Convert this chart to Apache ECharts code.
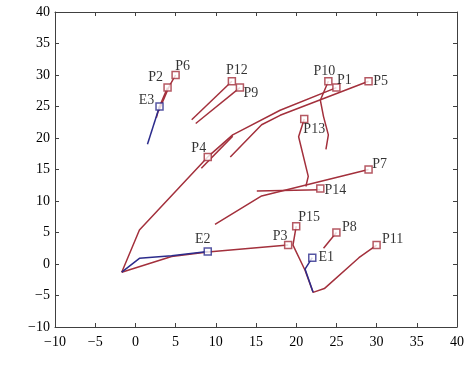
<!DOCTYPE html>
<html>
<head>
<meta charset="utf-8">
<script src="https://cdn.jsdelivr.net/npm/echarts@6/dist/echarts.min.js"></script>
<style>
  html, body { margin: 0; padding: 0; background: #fff; }
  #chart { width: 472px; height: 368px; }
</style>
</head>
<body>
<div id="chart"></div>
<script>
// trajectories (red)
const trackP2 = [[2.6, 23.2], [3, 25], [4, 28]];
const trackP6 = [[2.9, 24.3], [4.2, 28.2], [5, 30]];
const trackP12 = [[7.0, 22.9], [12, 29]];
const trackP9 = [[7.5, 22.3], [13, 28]];
const trackP1 = [[-1.7, -1.3], [0.5, 5.4], [9, 17], [12.1, 20.5], [13, 21.1], [18, 24.4], [25, 28]];
const trackP4 = [[8.2, 15.2], [12.1, 20.3]];
const trackP5 = [[11.8, 17], [15.7, 22.1], [18, 23.6], [29, 29]];
const trackP10 = [[23.7, 18.2], [24.0, 20.5], [23.4, 23.4], [23, 26.0], [24, 29]];
const trackP13 = [[21, 23], [20.3, 20.2], [21.5, 13.9], [21.2, 12.3]];
const trackP7 = [[9.9, 6.3], [15.7, 10.8], [29, 15]];
const trackP14 = [[15.1, 11.6], [23, 11.8]];
const trackP3 = [[-1.7, -1.3], [4.5, 1.2], [9, 1.9], [19, 3]];
const trackP11 = [[20, 6], [19.6, 3.0], [21.1, -1.0], [22.1, -4.5], [23.5, -3.9], [27.8, 1.0], [30, 3]];
const trackP8 = [[23.4, 2.5], [25, 5]];

// trajectories (blue)
const trackE3 = [[1.5, 19], [3, 25]];
const trackE2 = [[-1.7, -1.3], [0.5, 0.9], [4.5, 1.3], [9, 2]];
const trackE1 = [[22, 1], [21.1, -0.8], [22.1, -4.5]];

// marked points
const pNames = ['P1', 'P2', 'P3', 'P4', 'P5', 'P6', 'P7', 'P8', 'P9', 'P10', 'P11', 'P12', 'P13', 'P14', 'P15'];
const pX = [25, 4, 19, 9, 29, 5, 29, 25, 13, 24, 30, 12, 21, 23, 20];
const pY = [28, 28, 3, 17, 29, 30, 15, 5, 28, 29, 3, 29, 23, 12, 6];
const eNames = ['E1', 'E2', 'E3'];
const eX = [22, 9, 3];
const eY = [1, 2, 25];

// label offsets (px) from marker centre
const labelOffset = {
  P1: [8, -7], P2: [-12, -10], P3: [-8, -9], P4: [-9, -9], P5: [12, 0],
  P6: [7, -9], P7: [11, -5], P8: [13, -5], P9: [11, 6], P10: [-4, -10],
  P11: [16, -6], P12: [5, -11], P13: [10, 10], P14: [15, 2], P15: [13, -9],
  E1: [14, 0], E2: [-5, -12], E3: [-13, -6]
};

const RED = '#a3303c';
const BLUE = '#2c2c8c';
const FONT = 'Liberation Serif';

const chart = echarts.init(document.getElementById('chart'));

function lineSeries(data, color) {
  return {
    type: 'line',
    data: data,
    showSymbol: false,
    silent: true,
    lineStyle: { color: color, width: 1.5 },
    animation: false,
    z: 2
  };
}

function markerSeries(names, xs, ys, color) {
  return {
    type: 'scatter',
    symbol: 'rect',
    symbolSize: 7,
    itemStyle: { color: '#fff', borderColor: color, borderWidth: 1.5 },
    label: {
      show: true,
      position: 'inside',
      color: '#000',
      fontFamily: FONT,
      fontSize: 14,
      formatter: p => p.name
    },
    data: names.map((n, i) => ({
      name: n,
      value: [xs[i], ys[i]],
      label: { offset: labelOffset[n] }
    })),
    animation: false,
    z: 5
  };
}

const fmt = v => String(v).replace('-', '\u2212');

const axisBase = {
  type: 'value',
  min: -10,
  max: 40,
  interval: 5,
  splitLine: { show: false },
  axisLine: { show: true, onZero: false, lineStyle: { color: '#404040', width: 1 } },
  axisTick: { show: true, inside: true, length: 4, lineStyle: { color: '#404040' } }
};

const option = {
  backgroundColor: '#fff',
  grid: { left: 55, right: 15, top: 12, bottom: 41 },
  xAxis: [
    Object.assign({}, axisBase, {
      position: 'bottom',
      axisLabel: { color: '#000', fontFamily: FONT, fontSize: 14, margin: 8, formatter: fmt }
    }),
    Object.assign({}, axisBase, { position: 'top', axisLabel: { show: false } })
  ],
  yAxis: [
    Object.assign({}, axisBase, {
      position: 'left',
      axisLabel: { color: '#000', fontFamily: FONT, fontSize: 14, margin: 5, formatter: fmt }
    }),
    Object.assign({}, axisBase, { position: 'right', axisLabel: { show: false } })
  ],
  series: [
    lineSeries(trackP2, RED),
    lineSeries(trackP6, RED),
    lineSeries(trackP12, RED),
    lineSeries(trackP9, RED),
    lineSeries(trackP1, RED),
    lineSeries(trackP4, RED),
    lineSeries(trackP5, RED),
    lineSeries(trackP10, RED),
    lineSeries(trackP13, RED),
    lineSeries(trackP7, RED),
    lineSeries(trackP14, RED),
    lineSeries(trackP3, RED),
    lineSeries(trackP11, RED),
    lineSeries(trackP8, RED),
    lineSeries(trackE3, BLUE),
    lineSeries(trackE2, BLUE),
    lineSeries(trackE1, BLUE),
    markerSeries(pNames, pX, pY, RED),
    markerSeries(eNames, eX, eY, BLUE)
  ]
};

chart.setOption(option);
</script>
</body>
</html>
